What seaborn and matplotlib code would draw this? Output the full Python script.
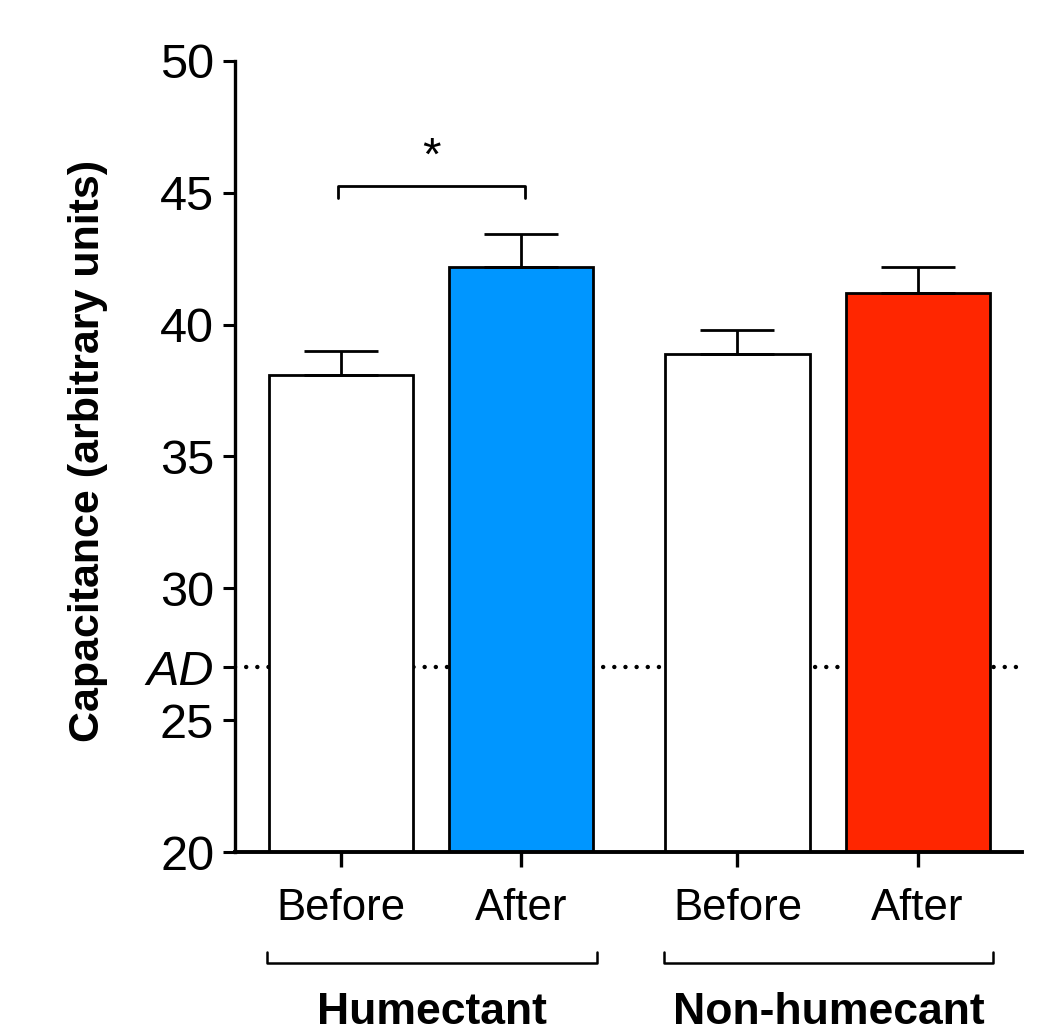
import matplotlib
matplotlib.use("Agg")
import matplotlib.pyplot as plt
import matplotlib.transforms as mtransforms
import seaborn as sns
import pandas as pd

# Skin capacitance before / after treatment (mean and SEM)
conditions = ["Before", "After", "Before", "After"]
groups = ["Humectant", "Humectant", "Non-humecant", "Non-humecant"]
bar_ids = ["H-before", "H-after", "N-before", "N-after"]
positions = [0.0, 1.0, 2.2, 3.2]
means = [38.1, 42.2, 38.9, 41.2]
sems = [0.9, 1.25, 0.9, 1.0]
bar_colors = ["#FFFFFF", "#0096FF", "#FFFFFF", "#FF2600"]
ad_level = 27
y_ticks = [20, 25, ad_level, 30, 35, 40, 45, 50]
y_ticklabels = ["20", "25", "AD", "30", "35", "40", "45", "50"]
group_names = ["Humectant", "Non-humecant"]
group_spans = [(-0.41, 1.42), (1.79, 3.62)]

df = pd.DataFrame({"pos": positions, "mean": means, "sem": sems,
                   "bar": bar_ids, "condition": conditions, "group": groups})

sns.set_theme(style="ticks")
plt.rcParams["font.family"] = ["Liberation Sans", "DejaVu Sans"]
plt.rcParams["text.color"] = "black"
plt.rcParams["axes.labelcolor"] = "black"
plt.rcParams["xtick.color"] = "black"
plt.rcParams["ytick.color"] = "black"

fig = plt.figure(figsize=(10.52, 10.35), dpi=100)
ax = fig.add_axes([0.2234, 0.1768, 0.7481, 0.7643])

# Atopic-dermatitis reference level, drawn beneath the bars
ax.axhline(ad_level, color="black", lw=3.2, linestyle=(0, (0.01, 2.5)),
           dash_capstyle="round", zorder=0.5)

sns.barplot(data=df, x="pos", y="mean", hue="bar", native_scale=True,
            palette=dict(zip(bar_ids, bar_colors)), width=0.8, dodge=False,
            saturation=1, errorbar=None, edgecolor="black", linewidth=2,
            legend=False, ax=ax, zorder=2)

# Upper-only SEM bars
ax.errorbar(df["pos"], df["mean"], yerr=[[0] * len(sems), df["sem"]],
            fmt="none", ecolor="black", elinewidth=2, capsize=26.5,
            capthick=2, zorder=3)

ax.set_xlim(-0.59, 3.78)
ax.set_ylim(20, 50)
ax.set_yticks(y_ticks)
ax.set_yticklabels(y_ticklabels)
ax.set_xticks(positions)
ax.set_xticklabels(conditions)
for lbl in ax.get_yticklabels():
    if lbl.get_text() == "AD":
        lbl.set_fontstyle("italic")

ax.tick_params(axis="y", length=9, width=2.2, labelsize=35, pad=6)
ax.tick_params(axis="x", length=11, width=2.4, labelsize=31.5, pad=15)
sns.despine(ax=ax)
for side, lw in (("left", 2.4), ("bottom", 2.8)):
    ax.spines[side].set_linewidth(lw)
    ax.spines[side].set_color("black")

ax.set_xlabel("")
ax.set_ylabel("Capacitance (arbitrary units)", fontsize=31, fontweight="bold")
ax.yaxis.set_label_coords(-0.161, 0.507)

# Group brackets beneath the tick labels
trans = mtransforms.blended_transform_factory(ax.transData, ax.transAxes)
for name, (x0, x1) in zip(group_names, group_spans):
    ax.plot([x0, x0, x1, x1], [-0.126, -0.1403, -0.1403, -0.126],
            color="black", lw=1.8, transform=trans, clip_on=False)
    ax.text((x0 + x1) / 2, -0.2168, name, transform=trans, ha="center",
            va="baseline", fontsize=32, fontweight="bold")

# Significance bracket between humectant before and after
ax.plot([-0.02, -0.02, 1.02, 1.02], [44.8, 45.26, 45.26, 44.8],
        color="black", lw=2, clip_on=False)
ax.text(0.5, 46.35, "*", ha="center", va="center", fontsize=34)

fig.savefig("out.png", dpi=100, facecolor="white")
